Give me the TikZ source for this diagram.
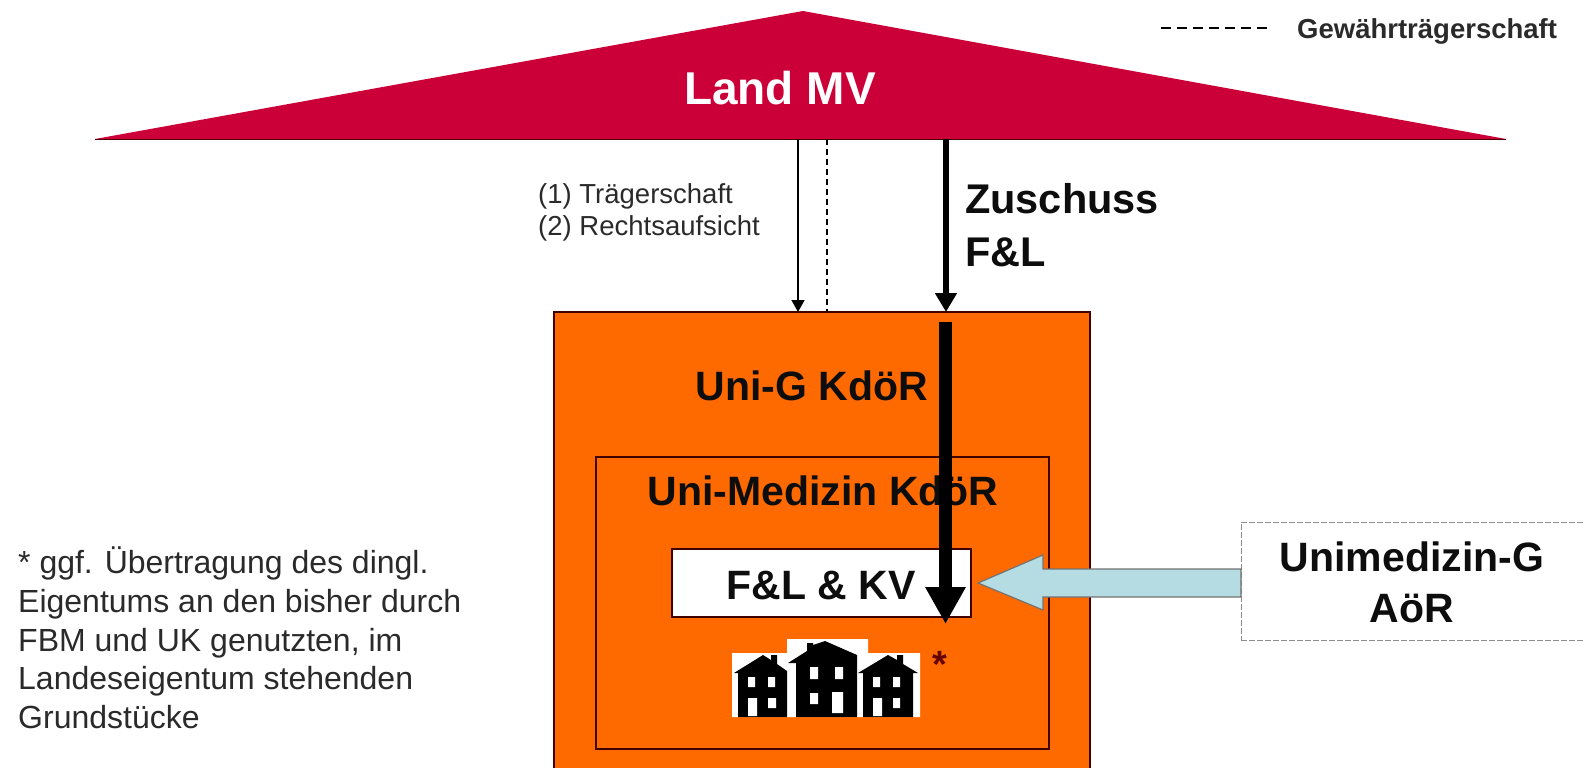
\documentclass[tikz,border=0pt]{standalone}
\usepackage{fontspec}
\setmainfont{Liberation Sans}
\usetikzlibrary{arrows.meta}
\definecolor{roofred}{HTML}{CC0039}
\definecolor{boxorange}{HTML}{FF6A00}
\definecolor{arrowblue}{HTML}{B5DCE2}
\definecolor{softtext}{HTML}{2A2A2A}
\tikzset{
  px/.style={x=1pt,y=-1pt},
  boxframe/.style={draw=black!75!red,line width=1.6pt,fill=boxorange,inner sep=0pt,outer sep=0pt},
  whitebox/.style={draw=black!75!red,line width=1.6pt,fill=white,inner sep=0pt,outer sep=0pt},
  dashbox/.style={draw=black!45,dash pattern=on 6pt off 2pt,line width=1pt,fill=white,inner sep=0pt,outer sep=0pt},
  bigbold/.style={font=\fontsize{41}{41}\bfseries\selectfont,text=black!95,inner sep=0pt,anchor=base},
  smalltxt/.style={font=\fontsize{27.5}{27.5}\selectfont,text=softtext,inner sep=0pt,anchor=base west},
  notetxt/.style={font=\fontsize{32}{32}\selectfont,text=softtext,inner sep=0pt,anchor=base west},
  thinarrow/.style={draw=black,line width=1.5pt,-{Triangle[length=12pt,width=13pt]}},
  dashline/.style={draw=black,line width=1.8pt,dash pattern=on 6pt off 4pt},
  thickarrow/.style={draw=black,line width=6pt,-{Triangle[length=19pt,width=21pt]}},
  heavyarrow/.style={draw=black,line width=13pt,-{Triangle[length=37pt,width=38pt]}},
}
\begin{document}
\begin{tikzpicture}[px]
\useasboundingbox (0,0) rectangle (1585,768);
\fill[white] (0,0) rectangle (1585,768);
% roof
\fill[roofred] (95,139) -- (803,11) -- (1506,139) -- cycle;
\draw[black!70!red,line width=1pt] (95,139) -- (1506,139);
\node[font=\fontsize{46}{46}\bfseries\selectfont,text=white,inner sep=0pt,anchor=base] (land) at (780,104) {Land MV};
\coordinate (roofthin) at (798,139);
\coordinate (roofdash) at (827,139);
\coordinate (roofthick) at (946,139);
% outer and inner boxes
\begin{scope}
\clip (0,0) rectangle (1585,768);
\node[boxframe,minimum width=536pt,minimum height=480pt,anchor=north west] (unig) at (554,312) {};
\end{scope}
\node[boxframe,minimum width=453pt,minimum height=292pt,anchor=north west] (unimed) at (596,457) {};
\node[whitebox,minimum width=299pt,minimum height=68pt,anchor=north west] (fl) at (672,549) {};
\node[bigbold] (unigtxt) at (812,400) {Uni-G KdöR};
\node[bigbold] (unimedtxt) at (823,505) {Uni-Medizin KdöR};
\node[bigbold] (fltxt) at (821,599) {F\&L \& KV};
% houses
\fill[white] (732,653) rectangle (920,717) (787,639) rectangle (868,653);
\fill[black] (738,717) -- (738,673) -- (734,673) -- (763,655) -- (771,660) -- (771,655) -- (777,655) -- (777,664) -- (787,671) -- (787,717) -- cycle;
\fill[black] (796,717) -- (796,663) -- (788,663) -- (807,651) -- (807,643) -- (813,643) -- (813,645) -- (825,641) -- (857,655) -- (857,717) -- cycle;
\fill[black] (863,717) -- (863,673) -- (858,673) -- (888,655) -- (897,660) -- (897,655) -- (903,655) -- (903,664) -- (918,673) -- (913,673) -- (913,717) -- cycle;
\fill[white]
  (748,677) rectangle (755,687) (768,677) rectangle (775,687)
  (748,698) rectangle (757,716) (768,698) rectangle (776,708)
  (810,667) rectangle (818,679) (835,667) rectangle (843,679)
  (810,693) rectangle (818,704) (832,692) rectangle (843,713)
  (873,677) rectangle (880,687) (893,677) rectangle (900,687)
  (873,698) rectangle (882,716) (893,698) rectangle (900,708);
\node[font=\fontsize{38}{38}\bfseries\selectfont,text=black!60!red,inner sep=0pt,anchor=base] (star) at (940,677) {*};
% connectors from the roof
\draw[thinarrow] (roofthin) -- (roofthin |- unig.north);
\draw[dashline] (roofdash) -- (roofdash |- unig.north);
\draw[thickarrow] (roofthick) -- (roofthick |- unig.north);
% heavy arrow
\coordinate (heavystart) at (945.5,322);
\coordinate (heavyend) at (945.5,624);
\draw[heavyarrow] (heavystart) -- (heavyend);
% external box and block arrow
\node[dashbox,minimum width=360pt,minimum height=118pt,anchor=north west] (ext) at (1241,522) {};
\node[bigbold] (exttxt1) at (1412,571) {Unimedizin-G};
\node[bigbold] (exttxt2) at (1412,622) {AöR};
\fill[arrowblue,draw=black!55,line width=1.2pt] (1241,569) -- (1043,569) -- (1043,555) -- (978,583) -- (1043,610) -- (1043,597) -- (1241,597) -- cycle;
% labels
\node[smalltxt] (l1) at (538,203) {(1) Trägerschaft};
\node[smalltxt] (l2) at (538,235) {(2) Rechtsaufsicht};
\node[font=\fontsize{41.5}{41.5}\bfseries\selectfont,text=black!95,inner sep=0pt,anchor=base west] (z1) at (965,213) {Zuschuss};
\node[font=\fontsize{41.5}{41.5}\bfseries\selectfont,text=black!95,inner sep=0pt,anchor=base west] (z2) at (965,266) {F\&L};
% legend
\coordinate (lega) at (1161,28);
\coordinate (legb) at (1269,28);
\draw[draw=black,line width=1.8pt,dash pattern=on 10pt off 6pt] (lega) -- (legb);
\node[smalltxt,font=\fontsize{27.5}{27.5}\bfseries\selectfont] (leg) at (1297,39) {Gewährträgerschaft};
% note
\node[notetxt] (n1) at (18,573) {* ggf. Übertragung des dingl.};
\node[notetxt] (n2) at (18,612) {Eigentums an den bisher durch};
\node[notetxt] (n3) at (18,651) {FBM und UK genutzten, im};
\node[notetxt] (n4) at (18,689) {Landeseigentum stehenden};
\node[notetxt] (n5) at (18,728) {Grundstücke};
\end{tikzpicture}
\end{document}
